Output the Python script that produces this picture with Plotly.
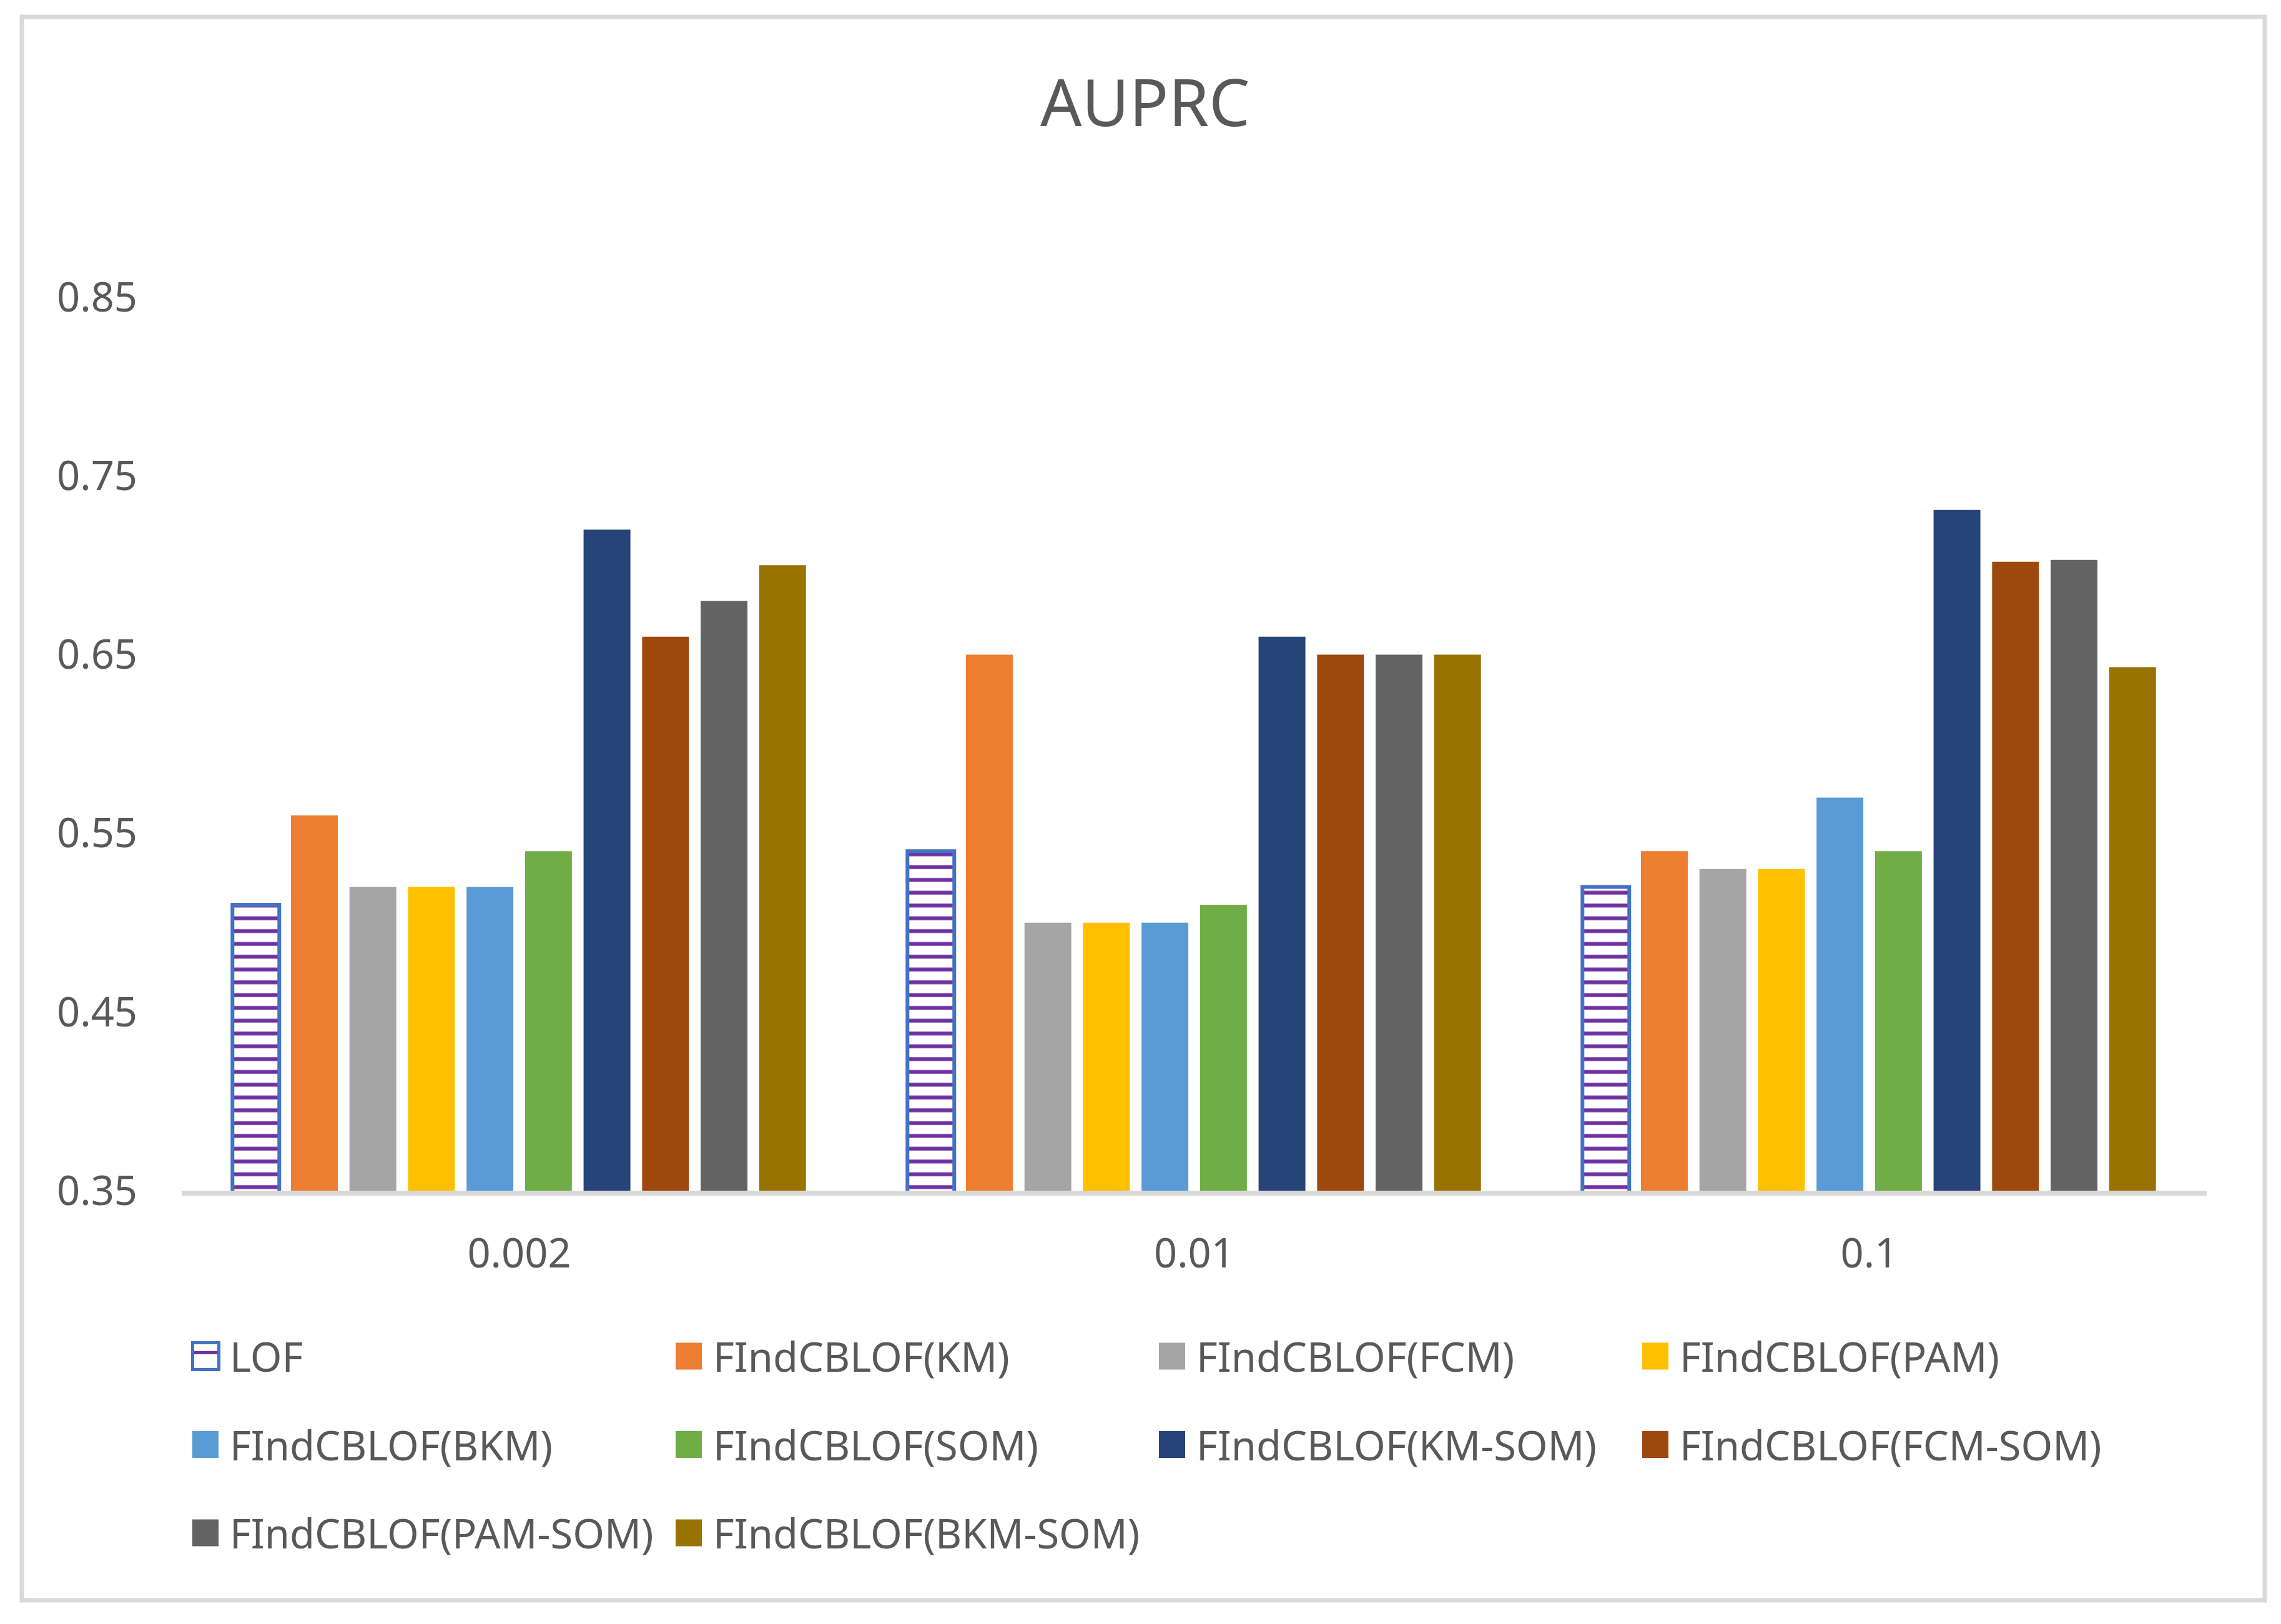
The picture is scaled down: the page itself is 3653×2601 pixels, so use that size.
import plotly.graph_objects as go

# ---------------- data ----------------
categories = ["0.002", "0.01", "0.1"]
series_names = [
    "LOF", "FIndCBLOF(KM)", "FIndCBLOF(FCM)", "FIndCBLOF(PAM)",
    "FIndCBLOF(BKM)", "FIndCBLOF(SOM)", "FIndCBLOF(KM-SOM)", "FIndCBLOF(FCM-SOM)",
    "FIndCBLOF(PAM-SOM)", "FIndCBLOF(BKM-SOM)",
]
lof = [0.51, 0.54, 0.52]
km = [0.56, 0.65, 0.54]
fcm = [0.52, 0.50, 0.53]
pam = [0.52, 0.50, 0.53]
bkm = [0.52, 0.50, 0.57]
som = [0.54, 0.51, 0.54]
km_som = [0.72, 0.66, 0.731]
fcm_som = [0.66, 0.65, 0.702]
pam_som = [0.68, 0.65, 0.703]
bkm_som = [0.70, 0.65, 0.643]
y_ticks = [0.35, 0.45, 0.55, 0.65, 0.75, 0.85]
y_tick_labels = ["0.35", "0.45", "0.55", "0.65", "0.75", "0.85"]
title_text = "AUPRC"

series_values = [lof, km, fcm, pam, bkm, som, km_som, fcm_som, pam_som, bkm_som]
colors = ["#FFFFFF", "#ED7D31", "#A5A5A5", "#FFC000", "#5B9BD5", "#70AD47",
          "#264478", "#9E480E", "#636363", "#997300"]
LOF_BORDER = "#4472C4"
LOF_HATCH = "#7030A0"
TEXT = "#595959"
GRID = "#D9D9D9"
FONT = "Noto Sans"

# page body has an 8px default margin; the figure is sized to end at the window edge
OFF = 8
W, H = 3653 - OFF, 2601 - OFF
L, R, T, B = 291 - OFF, 119, 333 - OFF, 694
PW = W - L - R
PH = H - T - B


def px_x(x):
    return (x - OFF - L) / PW


def px_y(y):
    return (H - B - (y - OFF)) / PH


fig = go.Figure()
for i, (name, vals) in enumerate(zip(series_names, series_values)):
    if i == 0:
        marker = dict(
            color="#FFFFFF",
            line=dict(color=LOF_BORDER, width=6),
            pattern=dict(shape="-", fgcolor=LOF_HATCH, bgcolor="#FFFFFF",
                         size=20.5, solidity=0.3, fgopacity=1),
        )
    else:
        marker = dict(color=colors[i], line=dict(width=0))
    fig.add_trace(go.Bar(x=categories, y=vals, name=name, marker=marker,
                         showlegend=False))

shapes = []
annotations = []

# outer chart border
shapes.append(dict(type="rect", xref="paper", yref="paper",
                   x0=px_x(35), x1=px_x(3627), y0=px_y(2563), y1=px_y(27),
                   line=dict(color=GRID, width=7), fillcolor="rgba(0,0,0,0)",
                   layer="below"))

# legend (manual, 4 columns)
col_x0 = 306
col_step = 774
row_y0 = 2172
row_step = 141.5
for i, name in enumerate(series_names):
    col, row = i % 4, i // 4
    sx = col_x0 + col * col_step
    cy = row_y0 + row * row_step
    if i == 0:
        shapes.append(dict(type="rect", xref="paper", yref="paper",
                           x0=px_x(sx + 2.5), x1=px_x(sx + 44.5),
                           y0=px_y(cy + 21.5), y1=px_y(cy - 21.5),
                           line=dict(color=LOF_BORDER, width=5), fillcolor="#FFFFFF"))
        shapes.append(dict(type="rect", xref="paper", yref="paper",
                           x0=px_x(sx + 5), x1=px_x(sx + 42),
                           y0=px_y(cy - 3), y1=px_y(cy - 8),
                           line=dict(width=0), fillcolor=LOF_HATCH))
    else:
        shapes.append(dict(type="rect", xref="paper", yref="paper",
                           x0=px_x(sx + 2), x1=px_x(sx + 44),
                           y0=px_y(cy + 21.5), y1=px_y(cy - 21.5),
                           line=dict(width=0), fillcolor=colors[i]))
    annotations.append(dict(text=name, xref="paper", yref="paper",
                            x=px_x(sx + 60), y=px_y(cy), xanchor="left",
                            yanchor="middle", showarrow=False,
                            font=dict(family=FONT, size=65, color=TEXT)))

# title
annotations.append(dict(text=title_text, xref="paper", yref="paper",
                        x=px_x(1834), y=px_y(162), xanchor="center",
                        yanchor="middle", showarrow=False,
                        font=dict(family=FONT, size=104, color=TEXT)))

fig.update_layout(
    width=W, height=H,
    margin=dict(l=L, r=R, t=T, b=B, pad=0),
    paper_bgcolor="#FFFFFF", plot_bgcolor="#FFFFFF",
    barmode="group", bargap=0.133, bargroupgap=0.2,
    showlegend=False,
    shapes=shapes, annotations=annotations,
    font=dict(family=FONT, color=TEXT),
)
fig.update_xaxes(
    showline=True, linecolor=GRID, linewidth=8, ticks="",
    showgrid=False, zeroline=False,
    tickfont=dict(family=FONT, size=65, color=TEXT),
    ticklabelstandoff=37,
)
fig.update_yaxes(
    range=[0.35, 0.9], tickmode="array", tickvals=y_ticks, ticktext=y_tick_labels,
    showline=False, showgrid=False, zeroline=False, ticks="",
    tickfont=dict(family=FONT, size=65, color=TEXT),
    ticklabelstandoff=70,
)

fig.write_html("out.html")
